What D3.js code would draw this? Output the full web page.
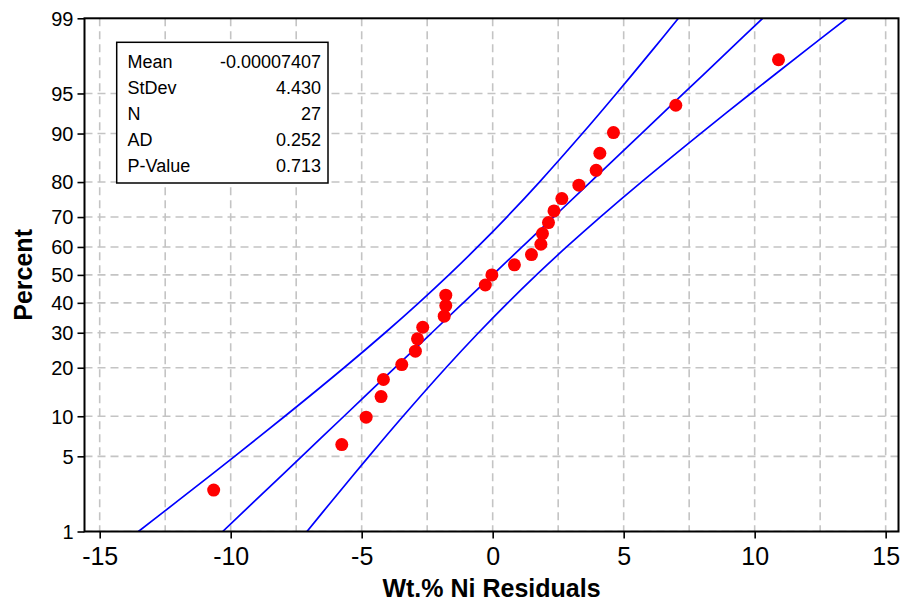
<!DOCTYPE html>
<html><head><meta charset="utf-8">
<script src="https://cdn.jsdelivr.net/npm/d3@7"></script>
<style>body{margin:0;background:#fff} svg{display:block}</style>
</head><body><svg id="c" width="901" height="602"></svg>
<script>
// ---- data ----
const xTicks = [-15, -10, -5, 0, 5, 10, 15];
const xGrid = [-15, -12.5, -10, -7.5, -5, -2.5, 0, 2.5, 5, 7.5, 10, 12.5, 15];
const yTicks = [1, 5, 10, 20, 30, 40, 50, 60, 70, 80, 90, 95, 99];
const residuals = [-10.65, -5.76, -4.83, -4.26, -4.17, -3.47, -2.95, -2.87, -2.67, -1.85, -1.79, -1.79,
  -0.28, -0.03, 0.83, 1.48, 1.84, 1.90, 2.13, 2.34, 2.64, 3.29, 3.95, 4.09, 4.61, 6.99, 10.91];
const percents = [2.555, 6.204, 9.854, 13.504, 17.153, 20.803, 24.453, 28.102, 31.752, 35.401, 39.051, 42.701,
  46.350, 50.000, 53.650, 57.299, 60.949, 64.599, 68.248, 71.898, 75.547, 79.197, 82.847, 86.496, 90.146, 93.796, 97.445];
const bandPercents = [1, 2, 5, 10, 20, 30, 40, 50, 60, 70, 80, 90, 95, 98, 99];
const fitX   = [-10.306, -9.098, -7.287, -5.677, -3.728, -2.323, -1.122, 0, 1.122, 2.323, 3.728, 5.677, 7.287, 9.098, 10.306];
const lowerX = [-13.522, -12.044, -9.850, -7.933, -5.673, -4.105, -2.820, -1.671, -0.576, 0.541, 1.784, 3.422, 4.724, 6.152, 7.089];
const upperX = [-7.089, -6.152, -4.724, -3.422, -1.784, -0.541, 0.576, 1.671, 2.820, 4.105, 5.673, 7.933, 9.850, 12.044, 13.522];
const statLabels = ["Mean", "StDev", "N", "AD", "P-Value"];
const statValues = ["-0.00007407", "4.430", "27", "0.252", "0.713"];
const xTitle = "Wt.% Ni Residuals";
const yTitle = "Percent";

// ---- probit transform for the probability axis ----
function probit(p) {
  const a = [-3.969683028665376e+01, 2.209460984245205e+02, -2.759285104469687e+02, 1.383577518672690e+02, -3.066479806614716e+01, 2.506628277459239e+00];
  const b = [-5.447609879822406e+01, 1.615858368580409e+02, -1.556989798598866e+02, 6.680131188771972e+01, -1.328068155288572e+01];
  const c = [-7.784894002430293e-03, -3.223964580411365e-01, -2.400758277161838e+00, -2.549671348529034e+00, 4.374664141464968e+00, 2.938163982698783e+00];
  const d = [7.784695709041462e-03, 3.224671290700398e-01, 2.445134137142996e+00, 3.754408661907416e+00];
  const pl = 0.02425, ph = 1 - pl;
  let q, r;
  if (p < pl) {
    q = Math.sqrt(-2 * Math.log(p));
    return (((((c[0]*q+c[1])*q+c[2])*q+c[3])*q+c[4])*q+c[5]) / ((((d[0]*q+d[1])*q+d[2])*q+d[3])*q+1);
  } else if (p <= ph) {
    q = p - 0.5; r = q*q;
    return (((((a[0]*r+a[1])*r+a[2])*r+a[3])*r+a[4])*r+a[5])*q / (((((b[0]*r+b[1])*r+b[2])*r+b[3])*r+b[4])*r+1);
  } else {
    q = Math.sqrt(-2 * Math.log(1 - p));
    return -(((((c[0]*q+c[1])*q+c[2])*q+c[3])*q+c[4])*q+c[5]) / ((((d[0]*q+d[1])*q+d[2])*q+d[3])*q+1);
  }
}
const zp = p => probit(p / 100);

// ---- layout ----
const L = 84.5, R = 898.5, T = 18.3, B = 531.5;
const FONT = "'Liberation Sans', Arial, sans-serif";
const svg = d3.select("#c");

const x = d3.scaleLinear().domain([-15.58, 15.49]).range([L, R]);
const y = d3.scaleLinear().domain([zp(1), zp(99)]).range([B, T]);

svg.append("defs").append("clipPath").attr("id", "clip")
  .append("rect").attr("x", L).attr("y", T).attr("width", R - L).attr("height", B - T);

// grid
const grid = svg.append("g").attr("clip-path", "url(#clip)")
  .attr("stroke", "#c4c4c4").attr("stroke-width", 1.6).attr("stroke-dasharray", "8,5");
grid.selectAll("line.v").data(xGrid).join("line").attr("class", "v")
  .attr("x1", d => x(d)).attr("x2", d => x(d)).attr("y1", T).attr("y2", B);
grid.selectAll("line.h").data(yTicks).join("line").attr("class", "h")
  .attr("y1", d => y(zp(d))).attr("y2", d => y(zp(d))).attr("x1", L).attr("x2", R);

// fitted line & confidence bands
const plotG = svg.append("g").attr("clip-path", "url(#clip)");
const mkLine = arr => d3.line()
  .x((d, i) => x(arr[i])).y(d => y(zp(d))).curve(d3.curveCatmullRom)(bandPercents);
[lowerX, fitX, upperX].forEach(arr => {
  plotG.append("path").attr("d", mkLine(arr)).attr("fill", "none")
    .attr("stroke", "#0000ff").attr("stroke-width", 1.7);
});

// points
plotG.selectAll("circle").data(residuals).join("circle")
  .attr("cx", d => x(d)).attr("cy", (d, i) => y(zp(percents[i]))).attr("r", 6.5)
  .attr("fill", "#ff0000");

// axes
const xAxis = svg.append("g").attr("transform", `translate(0,${B})`)
  .call(d3.axisBottom(x).tickValues(xTicks).tickSize(7).tickPadding(9).tickFormat(d => d));
const yzTicks = yTicks.map(zp);
const yAxis = svg.append("g").attr("transform", `translate(${L},0)`)
  .call(d3.axisLeft(y).tickValues(yzTicks).tickSize(7).tickPadding(4).tickFormat((d, i) => yTicks[i]));
[xAxis, yAxis].forEach(g => {
  g.select(".domain").remove();
  g.selectAll(".tick line").attr("stroke", "#000").attr("stroke-width", 1.6);
  g.selectAll("text").attr("fill", "#000").attr("font-family", FONT);
});
xAxis.selectAll("text").attr("font-size", 25);
yAxis.selectAll("text").attr("font-size", 20).attr("dy", "0.34em");

// frame
svg.append("rect").attr("x", L).attr("y", T).attr("width", R - L).attr("height", B - T)
  .attr("fill", "none").attr("stroke", "#000").attr("stroke-width", 2);

// stats box
const bx = 116.7, by = 42.3, bw = 211.3, bh = 140.7;
svg.append("rect").attr("x", bx).attr("y", by).attr("width", bw).attr("height", bh)
  .attr("fill", "#fff").attr("stroke", "#000").attr("stroke-width", 1.5);
const st = svg.append("g").attr("font-family", FONT).attr("font-size", 18).attr("fill", "#000");
st.selectAll("text.l").data(statLabels).join("text").attr("class", "l")
  .attr("x", 127.5).attr("y", (d, i) => 67.5 + 26.1 * i).text(d => d);
st.selectAll("text.v").data(statValues).join("text").attr("class", "v")
  .attr("x", 321).attr("y", (d, i) => 67.5 + 26.1 * i).attr("text-anchor", "end").text(d => d);

// titles
svg.append("text").attr("x", (L + R) / 2).attr("y", 597).attr("text-anchor", "middle")
  .attr("font-family", FONT).attr("font-weight", "bold").attr("font-size", 25).text(xTitle);
svg.append("text").attr("transform", `translate(32,${(T + B) / 2}) rotate(-90)`)
  .attr("text-anchor", "middle").attr("font-family", FONT).attr("font-weight", "bold")
  .attr("font-size", 25).text(yTitle);
</script>
</body></html>
